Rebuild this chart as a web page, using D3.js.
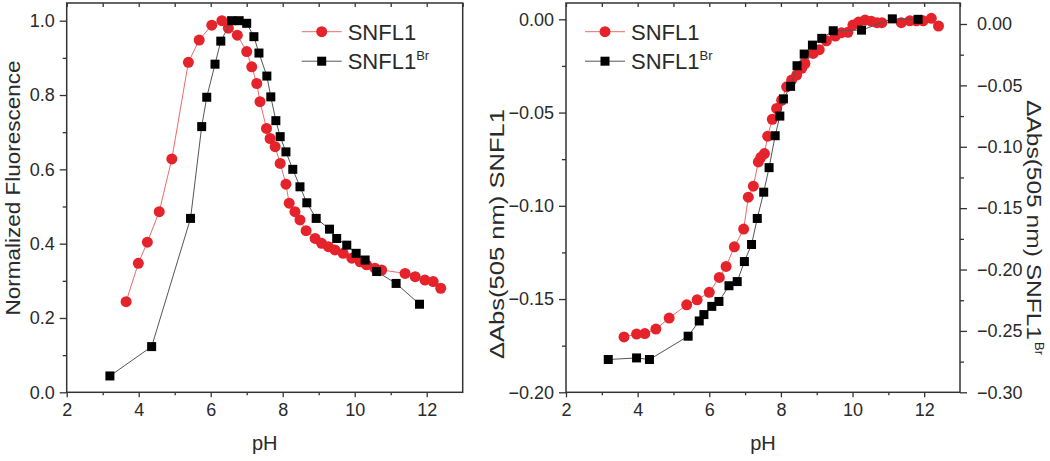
<!DOCTYPE html>
<html>
<head>
<meta charset="utf-8">
<script src="https://cdn.jsdelivr.net/npm/d3@7"></script>
<style>
  html, body { margin: 0; padding: 0; background: #fff; }
  svg { display: block; font-family: "Liberation Sans", Arial, sans-serif; }
</style>
</head>
<body>
<svg id="chart" width="1050" height="461"></svg>
<script>
// ---------------- DATA ----------------
// Left panel: normalized fluorescence vs pH
const fluorSNFL1_pH = [3.65,3.99,4.24,4.57,4.92,5.38,5.68,6.03,6.31,6.49,6.74,7.00,7.14,7.28,7.37,7.55,7.65,7.79,7.93,8.09,8.18,8.34,8.48,8.65,8.90,9.08,9.27,9.45,9.68,9.92,10.15,10.33,10.56,10.75,11.40,11.68,11.95,12.18,12.39];
const fluorSNFL1_val = [0.244,0.347,0.404,0.486,0.628,0.888,0.948,0.988,1.000,0.980,0.961,0.917,0.876,0.831,0.782,0.710,0.683,0.661,0.616,0.560,0.509,0.486,0.464,0.435,0.414,0.401,0.392,0.383,0.374,0.361,0.351,0.343,0.334,0.329,0.320,0.311,0.302,0.298,0.280];
const fluorBr_pH = [3.20,4.36,5.44,5.75,5.89,6.12,6.28,6.58,6.79,7.00,7.20,7.34,7.56,7.67,7.81,7.93,8.09,8.28,8.48,8.67,8.93,9.30,9.50,9.78,10.04,10.29,10.61,11.15,11.80];
const fluorBr_val = [0.044,0.123,0.468,0.715,0.794,0.883,0.945,1.000,1.000,0.993,0.957,0.913,0.851,0.795,0.731,0.688,0.647,0.600,0.553,0.510,0.468,0.439,0.414,0.396,0.374,0.356,0.325,0.293,0.237];

// Right panel: ΔAbs(505 nm) vs pH (SNFL1 on left axis, SNFL1Br on right axis)
const absSNFL1_pH = [3.62,3.97,4.20,4.51,4.88,5.37,5.66,6.00,6.28,6.47,6.70,6.96,7.09,7.23,7.37,7.44,7.54,7.63,7.76,7.88,8.02,8.16,8.30,8.44,8.58,8.67,8.90,9.07,9.27,9.52,9.69,9.87,10.01,10.17,10.35,10.52,10.68,10.82,11.36,11.60,11.78,11.97,12.20,12.40];
const absSNFL1_val = [-0.1703,-0.1688,-0.1685,-0.1661,-0.1602,-0.1531,-0.1504,-0.1464,-0.1384,-0.1325,-0.1220,-0.1125,-0.0954,-0.0895,-0.0765,-0.0740,-0.0720,-0.0627,-0.0536,-0.0478,-0.0434,-0.0362,-0.0326,-0.0299,-0.0263,-0.0237,-0.0183,-0.0163,-0.0115,-0.0090,-0.0072,-0.0070,-0.0031,-0.0015,-0.0004,-0.0010,-0.0018,-0.0018,-0.0018,-0.0008,-0.0008,-0.0008,0.0005,-0.0036];
const absBr_pH = [3.18,3.97,4.33,5.41,5.72,5.85,6.07,6.27,6.55,6.78,6.98,7.18,7.34,7.52,7.67,7.84,7.97,8.07,8.27,8.45,8.65,8.88,9.14,9.46,10.25,11.11,11.83];
const absBr_val = [-0.2733,-0.2720,-0.2733,-0.2543,-0.2419,-0.2367,-0.2300,-0.2260,-0.2132,-0.2098,-0.1935,-0.1796,-0.1584,-0.1370,-0.1170,-0.0910,-0.0750,-0.0610,-0.0508,-0.0340,-0.0245,-0.0172,-0.0117,-0.0055,-0.0050,0.0042,0.0038];

// Tick labels
const phTicks = [2,4,6,8,10,12];
const phMinor = [3,5,7,9,11];
const phTop = [2,3,4,5,6,7,8,9,10,11,12,13];
const fluorTicks = [0.0,0.2,0.4,0.6,0.8,1.0];
const fluorMinor = [0.1,0.3,0.5,0.7,0.9];
const absLTicks = [-0.20,-0.15,-0.10,-0.05,0.00];
const absLMinor = [-0.175,-0.125,-0.075,-0.025];
const absRTicks = [-0.30,-0.25,-0.20,-0.15,-0.10,-0.05,0.00];
const absRMinor = [-0.275,-0.225,-0.175,-0.125,-0.075,-0.025];

const seriesNames = ["SNFL1", "SNFL1"];
const xTitle = "pH";
const yTitleLeft = "Normalized Fluorescence";
const yTitleMid = "ΔAbs(505 nm) SNFL1";
const yTitleRight = "ΔAbs(505 nm) SNFL1";

// ---------------- DRAW ----------------
const svg = d3.select("#chart");
const RED = "#e5232a", RED_LINE = "#ee6b6b", BLK = "#000", BLK_LINE = "#555";
const TXT = "#2a2a2a", AX = "#333";
const tickFont = 18, titleFont = 20;

const zip = (a, b) => a.map((v, i) => [v, b[i]]);

function styleAxis(g, size) {
  g.select(".domain").remove();
  g.selectAll(".tick line").attr("stroke", AX).attr("stroke-width", 1.3);
  g.selectAll(".tick text").attr("fill", TXT).attr("font-size", size).attr("font-family", "Liberation Sans, Arial, sans-serif");
}

function drawFrame(x0, x1, y0, y1) {
  svg.append("rect").attr("x", x0).attr("y", y0).attr("width", x1 - x0).attr("height", y1 - y0)
    .attr("fill", "none").attr("stroke", AX).attr("stroke-width", 1.5);
}

function drawSeries(g, data, x, y, color, lineColor, shape) {
  const line = d3.line().x(d => x(d[0])).y(d => y(d[1]));
  g.append("path").datum(data).attr("d", line).attr("fill", "none").attr("stroke", lineColor).attr("stroke-width", 1);
  if (shape === "circle") {
    g.selectAll(null).data(data).enter().append("circle")
      .attr("cx", d => x(d[0])).attr("cy", d => y(d[1])).attr("r", 5.5).attr("fill", color);
  } else {
    const s = 9;
    g.selectAll(null).data(data).enter().append("rect")
      .attr("x", d => x(d[0]) - s / 2).attr("y", d => y(d[1]) - s / 2).attr("width", s).attr("height", s).attr("fill", color);
  }
}

function legend(x, y) {
  const g = svg.append("g");
  g.append("line").attr("x1", x).attr("x2", x + 40).attr("y1", y).attr("y2", y).attr("stroke", RED_LINE).attr("stroke-width", 1);
  g.append("circle").attr("cx", x + 20).attr("cy", y).attr("r", 5.5).attr("fill", RED);
  g.append("text").attr("x", x + 46).attr("y", y + 8).attr("font-size", 22).attr("fill", TXT).text(seriesNames[0]);
  const y2 = y + 29.5;
  g.append("line").attr("x1", x).attr("x2", x + 40).attr("y1", y2).attr("y2", y2).attr("stroke", BLK_LINE).attr("stroke-width", 1);
  g.append("rect").attr("x", x + 15.5).attr("y", y2 - 4.5).attr("width", 9).attr("height", 9).attr("fill", BLK);
  const t = g.append("text").attr("x", x + 46).attr("y", y2 + 8).attr("font-size", 22).attr("fill", TXT);
  t.append("tspan").text(seriesNames[1]);
  t.append("tspan").attr("font-size", 13).attr("dy", -9).text("Br");
}

// ---- Left panel ----
{
  const x = d3.scaleLinear().domain([2, 13]).range([66.7, 462.7]);
  const y = d3.scaleLinear().domain([0, 1]).range([392.3, 20.7]);
  const top = 3, bottom = 392.3;

  svg.append("g").attr("transform", `translate(0,${bottom})`)
    .call(d3.axisBottom(x).tickValues(phTicks).tickSize(5).tickPadding(6).tickFormat(d3.format("d")))
    .call(g => styleAxis(g, tickFont));
  svg.append("g").attr("transform", `translate(0,${bottom})`)
    .call(d3.axisBottom(x).tickValues(phMinor).tickSize(3).tickFormat(""))
    .call(g => styleAxis(g, tickFont));
  svg.append("g").attr("transform", `translate(0,${top})`)
    .call(d3.axisTop(x).tickValues(phTop).tickSize(-4).tickFormat(""))
    .call(g => styleAxis(g, tickFont));
  svg.append("g").attr("transform", `translate(66.7,0)`)
    .call(d3.axisLeft(y).tickValues(fluorTicks).tickSize(7).tickPadding(5).tickFormat(d3.format(".1f")))
    .call(g => styleAxis(g, tickFont));
  svg.append("g").attr("transform", `translate(66.7,0)`)
    .call(d3.axisLeft(y).tickValues(fluorMinor).tickSize(4).tickFormat(""))
    .call(g => styleAxis(g, tickFont));

  drawFrame(66.7, 462.7, top, bottom);

  const g = svg.append("g");
  drawSeries(g, zip(fluorSNFL1_pH, fluorSNFL1_val), x, y, RED, RED_LINE, "circle");
  drawSeries(g, zip(fluorBr_pH, fluorBr_val), x, y, BLK, BLK_LINE, "square");

  svg.append("text").attr("x", 264.7).attr("y", 450).attr("text-anchor", "middle")
    .attr("font-size", titleFont).attr("fill", TXT).text(xTitle);
  svg.append("text").attr("transform", "translate(20,188) rotate(-90)").attr("text-anchor", "middle")
    .attr("font-size", titleFont).attr("fill", TXT)
    .attr("textLength", 255).attr("lengthAdjust", "spacingAndGlyphs").text(yTitleLeft);

  legend(301.7, 31.7);
}

// ---- Right panel ----
{
  const x = d3.scaleLinear().domain([2, 13]).range([566, 960]);
  const yL = d3.scaleLinear().domain([-0.2, 0]).range([392.3, 19.3]);
  const yR = d3.scaleLinear().domain([-0.3, 0]).range([392.3, 24]);
  const top = 3, bottom = 392.3;

  svg.append("g").attr("transform", `translate(0,${bottom})`)
    .call(d3.axisBottom(x).tickValues(phTicks).tickSize(5).tickPadding(6).tickFormat(d3.format("d")))
    .call(g => styleAxis(g, tickFont));
  svg.append("g").attr("transform", `translate(0,${bottom})`)
    .call(d3.axisBottom(x).tickValues(phMinor).tickSize(3).tickFormat(""))
    .call(g => styleAxis(g, tickFont));
  svg.append("g").attr("transform", `translate(0,${top})`)
    .call(d3.axisTop(x).tickValues(phTop).tickSize(-4).tickFormat(""))
    .call(g => styleAxis(g, tickFont));
  svg.append("g").attr("transform", `translate(566,0)`)
    .call(d3.axisLeft(yL).tickValues(absLTicks).tickSize(7).tickPadding(5).tickFormat(d3.format(".2f")))
    .call(g => styleAxis(g, tickFont));
  svg.append("g").attr("transform", `translate(566,0)`)
    .call(d3.axisLeft(yL).tickValues(absLMinor).tickSize(4).tickFormat(""))
    .call(g => styleAxis(g, tickFont));
  svg.append("g").attr("transform", `translate(960,0)`)
    .call(d3.axisRight(yR).tickValues(absRTicks).tickSize(7).tickPadding(10).tickFormat(d3.format(".2f")))
    .call(g => styleAxis(g, tickFont));
  svg.append("g").attr("transform", `translate(960,0)`)
    .call(d3.axisRight(yR).tickValues(absRMinor).tickSize(4).tickFormat(""))
    .call(g => styleAxis(g, tickFont));

  drawFrame(566, 960, top, bottom);

  const g = svg.append("g");
  drawSeries(g, zip(absSNFL1_pH, absSNFL1_val), x, yL, RED, RED_LINE, "circle");
  drawSeries(g, zip(absBr_pH, absBr_val), x, yR, BLK, BLK_LINE, "square");

  svg.append("text").attr("x", 763).attr("y", 450).attr("text-anchor", "middle")
    .attr("font-size", titleFont).attr("fill", TXT).text(xTitle);
  svg.append("text").attr("transform", "translate(504,234) rotate(-90)").attr("text-anchor", "middle")
    .attr("font-size", titleFont).attr("fill", TXT)
    .attr("textLength", 250).attr("lengthAdjust", "spacingAndGlyphs").text(yTitleMid);
  const tr = svg.append("g").attr("transform", "translate(1027,100) rotate(90)");
  tr.append("text").attr("x", 0).attr("y", 0).attr("font-size", titleFont).attr("fill", TXT)
    .attr("textLength", 240).attr("lengthAdjust", "spacingAndGlyphs").text(yTitleRight);
  tr.append("text").attr("x", 242).attr("y", -8).attr("font-size", 13).attr("fill", TXT).text("Br");

  legend(585, 31.7);
}
</script>
</body>
</html>
